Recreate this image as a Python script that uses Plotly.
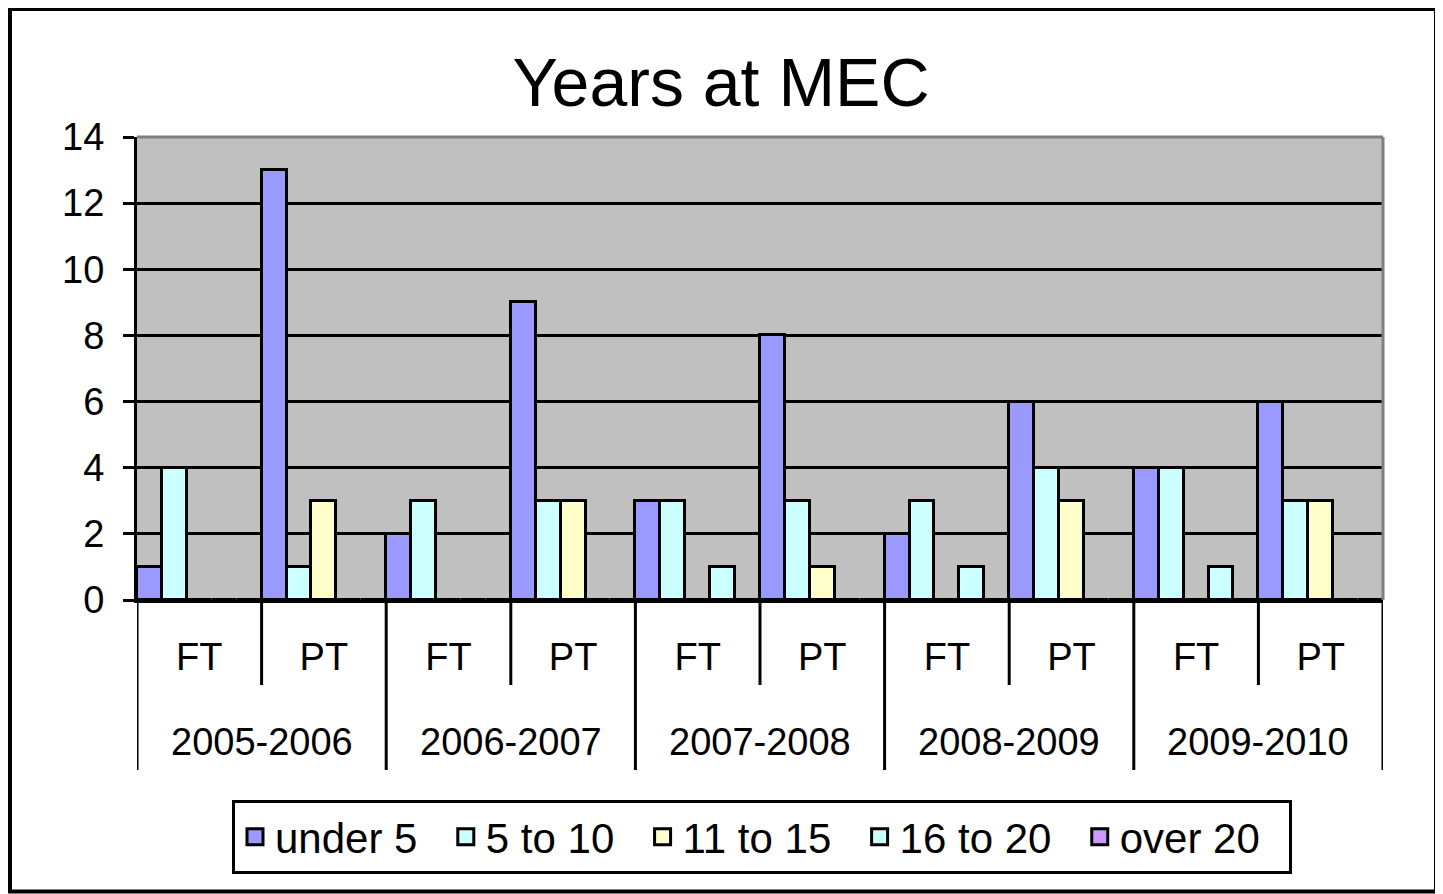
import plotly.graph_objects as go

# ---- data ----
years = ["2005-2006", "2006-2007", "2007-2008", "2008-2009", "2009-2010"]
types = ["FT", "PT"]
series_names = ["under 5", "5 to 10", "11 to 15", "16 to 20", "over 20"]
under_5   = [1, 13, 2, 9, 3, 8, 2, 6, 4, 6]
to_10     = [4, 1, 3, 3, 3, 3, 3, 4, 4, 3]
to_15     = [0, 3, 0, 3, 0, 1, 0, 3, 0, 3]
to_20     = [0, 0, 0, 0, 1, 0, 1, 0, 1, 0]
over_20   = [0, 0, 0, 0, 0, 0, 0, 0, 0, 0]
y_ticks = [0, 2, 4, 6, 8, 10, 12, 14]

series_values = [under_5, to_10, to_15, to_20, over_20]
colors = ["#9999FF", "#CCFFFF", "#FFFFCC", "#CCFFFF", "#CC99FF"]

categories = [f"{y} {t}" for y in years for t in types]
cat_labels = [t for y in years for t in types]

# page geometry (the html body adds an 8px offset)
OFF = 8
PAGE_W, PAGE_H = 1443, 894
W, H = PAGE_W - OFF, PAGE_H - OFF
PL, PR, PT_, PB = 137, 1383, 137, 600          # plot area in page pixels
ML, MT = PL - OFF, PT_ - OFF
MR, MB = PAGE_W - PR, PAGE_H - PB
PW, PH = PR - PL, PB - PT_

def px_x(p):
    return (p - PL) / PW

def px_y(p):
    return (PB - p) / PH

FONT = "Liberation Sans, Arial, sans-serif"
NB = "\u00a0"

fig = go.Figure()
for name, vals, col in zip(series_names, series_values, colors):
    fig.add_trace(go.Bar(
        x=categories, y=vals, name=name, showlegend=False,
        marker=dict(color=col, line=dict(color="black", width=3)),
    ))
# legend swatches
for name, col in zip(series_names, colors):
    fig.add_trace(go.Scatter(
        x=[None], y=[None], mode="markers", name=name + NB * 2,
        marker=dict(symbol="square", size=16, color=col,
                    line=dict(color="black", width=3)),
    ))

shapes = []
n = len(categories)
# divider lines between FT / PT (short) and between years (long)
for i in range(n + 1):
    pos = i - 0.5
    long_line = (i % 2 == 0)
    shapes.append(dict(
        type="line", xref="x", yref="paper",
        x0=pos, x1=pos, y0=0, y1=px_y(770 if long_line else 685),
        line=dict(color="black", width=3), layer="above",
    ))
# gray plot-area border (top and right)
shapes.append(dict(type="line", xref="paper", yref="paper", x0=0, x1=1, y0=1, y1=1,
                   line=dict(color="#808080", width=3), layer="above"))
shapes.append(dict(type="line", xref="paper", yref="paper", x0=1, x1=1, y0=0, y1=1,
                   line=dict(color="#808080", width=3), layer="above"))
# outer chart frame (edges drawn separately)
frame = [
    (10, 10, 9.5, 892, 4),       # left
    (8, 1442, 9.5, 9.5, 3),      # top
    (1438, 1438, 9.5, 892, 8),   # right
    (8, 1442, 891.5, 891.5, 4),  # bottom
]
for x0, x1, y0, y1, w in frame:
    shapes.append(dict(type="line", xref="paper", yref="paper",
                       x0=px_x(x0), x1=px_x(x1), y0=px_y(y0), y1=px_y(y1),
                       line=dict(color="black", width=w), layer="above"))

annotations = []
for k, yr in enumerate(years):
    annotations.append(dict(
        text=yr, x=2 * k + 0.5, xref="x", y=px_y(742), yref="paper",
        showarrow=False, yanchor="middle", xanchor="center",
        font=dict(family=FONT, size=38, color="black"),
    ))

fig.update_layout(
    width=W, height=H,
    margin=dict(l=ML, r=MR, t=MT, b=MB),
    paper_bgcolor="white",
    plot_bgcolor="#C0C0C0",
    font=dict(family=FONT, size=38, color="black"),
    title=dict(text="Years at MEC", x=(721 - OFF) / W, xref="container", xanchor="center",
               y=1 - (82 - OFF) / H, yref="container", yanchor="middle",
               font=dict(family=FONT, size=68, color="black")),
    barmode="group", bargap=0, bargroupgap=0,
    showlegend=True,
    legend=dict(orientation="h", x=px_x(762), xanchor="center", xref="paper",
                y=px_y(837), yanchor="middle", yref="paper",
                bordercolor="black", borderwidth=3, bgcolor="white",
                font=dict(family=FONT, size=42, color="black"),
                itemclick=False),
    shapes=shapes,
    annotations=annotations,
)

fig.update_xaxes(
    type="category", categoryorder="array", categoryarray=categories,
    tickvals=categories, ticktext=cat_labels,
    showgrid=False, showline=True, linecolor="black", linewidth=3,
    ticks="", ticklabelstandoff=21,
    tickfont=dict(family=FONT, size=38, color="black"),
    range=[-0.5, n - 0.5],
)
fig.update_yaxes(
    range=[0, 14], tickvals=y_ticks,
    showgrid=True, gridcolor="black", gridwidth=3,
    zeroline=False,
    showline=True, linecolor="black", linewidth=3,
    ticks="outside", ticklen=11, tickwidth=3, tickcolor="black",
    ticklabelstandoff=11,
    tickfont=dict(family=FONT, size=38, color="black"),
)

fig.write_html("out.html")
